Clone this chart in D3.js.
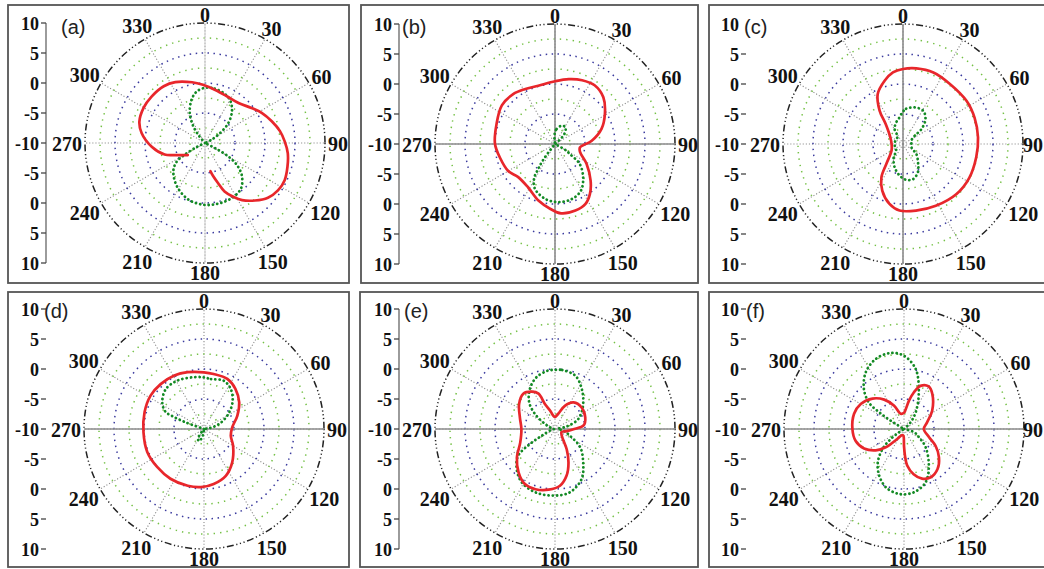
<!DOCTYPE html>
<html>
<head>
<meta charset="utf-8">
<script src="https://cdn.jsdelivr.net/npm/d3@7"></script>
<style>
  body { margin: 0; background: #ffffff; }
  svg { display: block; }
  .num { font-family: "Liberation Serif", "Times New Roman", serif; font-weight: bold; fill: #111; }
  .ang { font-size: 20px; }
  .rad { font-size: 18px; }
  .tag { font-family: "Liberation Sans", Arial, sans-serif; font-size: 20px; fill: #222; }
</style>
</head>
<body>
<svg id="fig" width="1044" height="569"></svg>
<script>
// Radiation patterns (dB) of six configurations: solid red and dotted green traces.
// Angles in degrees, clockwise from 0 at the top.

const angleTicks = [0, 30, 60, 90, 120, 150, 180, 210, 240, 270, 300, 330];
const radialUpper = [10, 5, 0, -5];
const radialLower = [-5, 0, 5, 10];
const radialCentre = -10;
const ringLevels = [-7.5, -5, -2.5, 0, 2.5, 5, 7.5];

// (a)
const aRedAng = [235, 248, 254, 266, 279, 288, 300, 311, 324, 334, 348, 358, 11, 25, 40, 53, 62, 72, 81, 89, 97, 106, 115, 123, 131, 139, 147, 152, 158, 162, 166, 169];
const aRedDb  = [-6.5, -4.6, -3.0, -1.1, 0.7, 1.5, 1.8, 1.8, 1.7, 1.3, 0.35, -0.3, -1.0, -1.4, -1.3, -0.3, 0.7, 1.7, 2.65, 3.3, 3.9, 4.3, 4.65, 4.5, 3.9, 2.7, 1.35, 0.2, -1.3, -3.0, -4.3, -5.2];
const aGrnAng = [0, 10, 20, 30, 40, 50, 58, 64, 70, 90, 112, 117, 120, 125, 132, 142, 154, 168, 181, 196, 213, 228, 236, 240, 244, 250, 280, 315, 320, 325, 333, 343, 351];
const aGrnDb  = [-0.8, -0.8, -1.1, -1.7, -3.0, -5.0, -7.4, -9, -10, -10, -10, -8, -5.5, -3.4, -1.7, -0.3, 0.2, 0.35, 0.3, -0.15, -1.4, -2.9, -4.2, -6, -8.5, -10, -10, -10, -8.5, -6.6, -4.4, -2.4, -1.3];

// (b)
const bRedAng = [0, 12, 23, 34, 46, 59, 72, 85, 98, 108, 122, 136, 145, 153, 163, 175, 184, 196, 212, 228, 240, 256, 270, 289, 306, 320, 331, 344];
const bRedDb  = [0.45, 1.05, 1.55, 1.8, 1.2, -0.3, -1.85, -3.85, -5.8, -5.6, -3.8, -1.45, 0.15, 1.2, 1.6, 1.6, 0.85, -0.15, -1.5, -1.75, -1.0, -0.55, 0, 0.3, 0.95, 0.85, 0.45, 0.1];
const bGrnAng = [0, 6, 20, 32, 43, 50, 56, 115, 120, 124, 129, 140, 151, 163, 177, 190, 204, 211, 214, 217, 222, 345, 352, 356];
const bGrnDb  = [-8, -7.5, -6.75, -6.7, -7.7, -9.3, -10, -10, -8, -7, -4.7, -2.7, -1.1, -0.4, -0.3, -0.7, -1.8, -3.2, -5, -7, -10, -10, -9.5, -8.8];

// (c)
const cRedAng = [0, 10, 23, 38, 56, 70, 85, 100, 117, 133, 152, 169, 183, 193, 204, 213, 220, 240, 270, 298, 319, 325, 333, 344, 352];
const cRedDb  = [2.5, 2.8, 2.95, 2.7, 2.8, 2.7, 2.55, 2.4, 2.4, 2.2, 1.65, 1.3, 1.1, 0.2, -1.5, -3.4, -5.7, -7.8, -8.1, -7.6, -5.6, -3.2, -0.7, 1.0, 2.05];
const cGrnAng = [0, 5, 18, 31, 42, 51, 55, 65, 90, 115, 127, 143, 152, 164, 175, 186, 200, 215, 225, 250, 270, 300, 323, 331, 343, 353];
const cGrnDb  = [-4.6, -4.1, -3.6, -3.5, -4.4, -6.0, -7.6, -8.4, -8.6, -8.4, -7.2, -5.8, -4.7, -3.9, -4.0, -4.7, -5.9, -7.3, -8.4, -8.6, -8.6, -8.6, -8.5, -7.1, -6.2, -5.5];

// (d)
const dRedAng = [0, 10, 25, 38, 53, 68, 87, 104, 120, 140, 155, 170, 183, 196, 214, 231, 248, 267, 286, 302, 316, 331, 344];
const dRedDb  = [-0.55, -0.7, -0.8, -1.5, -2.65, -4.0, -5.3, -5.4, -4.4, -2.7, -1.4, -0.7, -0.3, -0.15, 0, 0.05, 0.2, 0.1, 0.3, 0.5, 0.4, 0.2, -0.15];
const dGrnAng = [0, 8, 22, 34, 47, 60, 72, 80, 90, 180, 192, 203, 213, 222, 285, 290, 292, 294, 302, 316, 331, 349];
const dGrnDb  = [-1.4, -1.6, -1.3, -2.0, -3.5, -5.5, -7.4, -9, -10, -10, -8.6, -7.8, -8.2, -10, -10, -6.5, -4.4, -3.0, -1.8, -0.8, -0.8, -1.2];

// (e)
const eRedAng = [0, 12, 23, 35, 51, 69, 83, 90, 100, 115, 135, 150, 158, 166, 175, 186, 198, 209, 220, 233, 249, 270, 288, 305, 318, 328, 335, 338, 345, 352];
const eRedDb  = [-8.0, -7.4, -5.8, -4.6, -4.3, -4.6, -5.2, -6.8, -8.0, -8.8, -8.4, -6.1, -4.0, -2.0, -0.5, 0.17, 0.55, 0.45, -0.55, -2.05, -3.8, -4.4, -3.85, -2.7, -2.1, -2.67, -3.5, -5.5, -6.8, -7.7];
const eGrnAng = [0, 7, 21, 34, 50, 67, 78, 90, 102, 114, 126, 140, 152, 167, 181, 197, 212, 224, 234, 239, 243, 255, 270, 285, 297, 307, 316, 328, 340, 353];
const eGrnDb  = [-0.15, -0.1, -0.5, -2.0, -3.9, -5.8, -8, -9.5, -8.5, -7.3, -4.8, -2.7, -0.55, 0.85, 1.1, 1.06, 0.48, -0.8, -2.4, -5.1, -7.5, -9.3, -9.8, -9.3, -8.1, -5.8, -3.8, -2.1, -0.86, -0.2];

// (f)
const fRedAng = [0, 5, 10, 15, 21, 30, 39, 57, 74, 90, 108, 118, 129, 140, 151, 160, 168, 175, 178, 180, 186, 200, 214, 225, 233, 244, 256, 270, 287, 300, 314, 326, 337, 348];
const fRedDb  = [-7.3, -6.7, -5.2, -3.7, -2.3, -1.8, -2.5, -4.4, -6.0, -6.7, -5.6, -4.05, -2.5, -1.3, -0.8, -1.2, -2.3, -3.9, -5.6, -7.2, -8.9, -8.9, -8, -5.7, -4.1, -2.6, -1.7, -1.4, -1.3, -1.67, -2.7, -4.1, -5.8, -7.4];
const fGrnAng = [0, 11, 22, 35, 45, 60, 100, 108, 120, 130, 146, 158, 171, 184, 197, 208, 218, 227, 234, 245, 290, 302, 304, 307, 315, 326, 338, 350];
const fGrnDb  = [2.2, 0.2, -3.4, -6.6, -8.5, -10, -10, -8.2, -7, -5.3, -2.6, -0.4, 0.67, 0.87, 0.2, -1.2, -2.9, -5.1, -7.6, -10, -10, -7.4, -5, -2.67, -0.55, 1.4, 2.58, 2.86];

// Panel frames, centres and axis styling
const panels = [
  { tag: "(a)", box: [8, 5, 349, 283],   cx: 205, cy: 143, axisX: 46,  axisLine: true,  hLine: false, vLine: "faint", topTick: true,
    red: [aRedAng, aRedDb, false], grn: [aGrnAng, aGrnDb], tagX: 61,  tagY: 34 },
  { tag: "(b)", box: [361, 5, 698, 283], cx: 555, cy: 144, axisX: 399, axisLine: true,  hLine: true,  vLine: true, topTick: true,
    red: [bRedAng, bRedDb, true],  grn: [bGrnAng, bGrnDb], tagX: 402, tagY: 34 },
  { tag: "(c)", box: [709, 5, 1050, 283], cx: 903, cy: 144, axisX: 746, axisLine: false, hLine: false, vLine: true, topTick: false,
    red: [cRedAng, cRedDb, true],  grn: [cGrnAng, cGrnDb], tagX: 744, tagY: 34 },
  { tag: "(d)", box: [8, 292, 349, 567], cx: 204, cy: 429, axisX: 46,  axisLine: false, hLine: true,  vLine: false, topTick: true,
    red: [dRedAng, dRedDb, true],  grn: [dGrnAng, dGrnDb], tagX: 44,  tagY: 318 },
  { tag: "(e)", box: [360, 292, 698, 567], cx: 555, cy: 429, axisX: 399, axisLine: true,  hLine: true,  vLine: false, topTick: true,
    red: [eRedAng, eRedDb, true],  grn: [eGrnAng, eGrnDb], tagX: 404, tagY: 318 },
  { tag: "(f)", box: [709, 292, 1050, 567], cx: 904, cy: 429, axisX: 746, axisLine: false, hLine: true,  vLine: false, topTick: true,
    red: [fRedAng, fRedDb, true],  grn: [fGrnAng, fGrnDb], tagX: 746, tagY: 318 }
];

const W = 1044;
const R = 120;
const rScale = d3.scaleLinear().domain([-10, 10]).range([0, R]).clamp(true);
const rad = d => d * Math.PI / 180;

const svg = d3.select("#fig");

function zipPts(ang, db) {
  return ang.map((a, i) => ({ a: rad(a), r: rScale(db[i]) }));
}

// position of an angle label: just outside the rim, pushed out by its half-extent
function labelPos(a) {
  const w = String(a).length * 10, h = 12;
  const s = Math.sin(rad(a)), c = Math.cos(rad(a));
  const d = R + 3 + Math.abs(s) * w / 2 + Math.abs(c) * h / 2;
  return { x: d * s, y: -d * c + 1, w };
}

panels.forEach(p => {
  // frame
  svg.append("rect")
    .attr("x", p.box[0]).attr("y", p.box[1])
    .attr("width", p.box[2] - p.box[0]).attr("height", p.box[3] - p.box[1])
    .attr("fill", "none").attr("stroke", "#555").attr("stroke-width", 1.8);

  const g = svg.append("g").attr("transform", `translate(${p.cx},${p.cy})`);

  // spokes every 30 degrees
  g.selectAll("line.spoke").data(angleTicks).join("line")
    .attr("class", "spoke")
    .attr("x1", 0).attr("y1", 0)
    .attr("x2", a => R * Math.sin(rad(a)))
    .attr("y2", a => -R * Math.cos(rad(a)))
    .attr("stroke", "#8a8a8a").attr("stroke-width", 1.1)
    .attr("stroke-dasharray", "1.1,2");

  // dotted rings
  g.selectAll("circle.ring").data(ringLevels).join("circle")
    .attr("class", "ring")
    .attr("r", v => rScale(v))
    .attr("fill", "none")
    .attr("stroke", v => (v % 5 === 0) ? "#3b3b9e" : "#74c045")
    .attr("stroke-width", 1.5)
    .attr("stroke-dasharray", v => (v % 5 === 0) ? "1.5,4.5" : "1.4,5");

  // outer ring
  g.append("circle").attr("r", rScale(10))
    .attr("fill", "none").attr("stroke", "#222").attr("stroke-width", 1.5)
    .attr("stroke-dasharray", "1.2,2.6,1.2,2.6,1.2,2.6,7,2.6");

  // solid axis lines through the centre
  if (p.hLine) {
    g.append("line").attr("x1", -R).attr("x2", R).attr("y1", 0).attr("y2", 0)
      .attr("stroke", "#8c8c8c").attr("stroke-width", 1.6);
  }
  if (p.vLine === true) {
    g.append("line").attr("x1", 0).attr("x2", 0).attr("y1", -R).attr("y2", R)
      .attr("stroke", "#8c8c8c").attr("stroke-width", 1.6);
  } else if (p.vLine === "faint") {
    g.append("line").attr("x1", 0).attr("x2", 0).attr("y1", -R).attr("y2", R)
      .attr("stroke", "#cfcfcf").attr("stroke-width", 1);
  }

  // angle labels
  g.selectAll("text.ang").data(angleTicks).join("text")
    .attr("class", "num ang")
    .attr("text-anchor", "middle")
    .attr("dominant-baseline", "central")
    .attr("x", a => {
      const L = labelPos(a);
      return Math.min(L.x, W - 1 - p.cx - L.w / 2);
    })
    .attr("y", a => labelPos(a).y)
    .text(a => a);

  // traces
  const line = d3.lineRadial().angle(d => d.a).radius(d => d.r);
  const grnPts = zipPts(p.grn[0], p.grn[1]);
  g.append("path")
    .attr("d", line.curve(d3.curveCatmullRomClosed.alpha(0.5))(grnPts))
    .attr("fill", "none").attr("stroke", "#138a24").attr("stroke-width", 2.8)
    .attr("stroke-linecap", "round").attr("stroke-dasharray", "0.1,4.2");

  const redPts = zipPts(p.red[0], p.red[1]);
  const redCurve = p.red[2] ? d3.curveCatmullRomClosed.alpha(0.5) : d3.curveCatmullRom.alpha(0.5);
  g.append("path")
    .attr("d", line.curve(redCurve)(redPts))
    .attr("fill", "none").attr("stroke", "#e8262b").attr("stroke-width", 2.7)
    .attr("stroke-linejoin", "round").attr("stroke-linecap", "round");

  // radial scale on the left: 10 at the rim, -10 at the centre, mirrored below
  const ax = svg.append("g");
  const ticks = radialUpper.map(v => ({ v, y: p.cy - rScale(v) }))
    .concat([{ v: radialCentre, y: p.cy }])
    .concat(radialLower.map(v => ({ v, y: p.cy + rScale(v) })));
  if (p.axisLine) {
    ax.append("line").attr("x1", p.axisX).attr("x2", p.axisX)
      .attr("y1", p.cy - R).attr("y2", p.cy + R)
      .attr("stroke", "#666").attr("stroke-width", 1.3);
  }
  ax.selectAll("line.tk").data(p.topTick ? ticks : ticks.slice(1)).join("line")
    .attr("class", "tk")
    .attr("x1", p.axisX - 5).attr("x2", p.axisX)
    .attr("y1", d => d.y).attr("y2", d => d.y)
    .attr("stroke", "#444").attr("stroke-width", 1.3);
  ax.selectAll("text").data(ticks).join("text")
    .attr("class", "num rad")
    .attr("text-anchor", "end")
    .attr("dominant-baseline", "central")
    .attr("x", p.axisX - 7)
    .attr("y", d => d.y + 1)
    .text(d => d.v);

  svg.append("text").attr("class", "tag").attr("x", p.tagX).attr("y", p.tagY).text(p.tag);
});
</script>
</body>
</html>
